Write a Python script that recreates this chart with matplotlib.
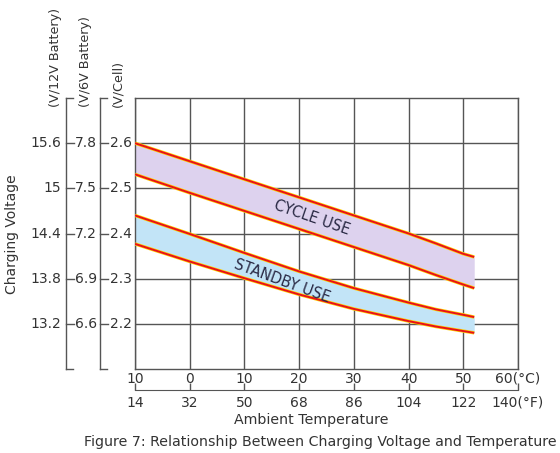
import matplotlib
matplotlib.use("Agg")
import matplotlib.pyplot as plt
import matplotlib.transforms as mtransforms
from matplotlib.lines import Line2D

# temperatures (deg C) where the curves were read
temp_c = [-10, 0, 10, 20, 30, 40, 45, 50, 52]
cycle_hi = [2.600, 2.560, 2.520, 2.480, 2.440, 2.400, 2.378, 2.355, 2.348]
cycle_lo = [2.531, 2.490, 2.450, 2.410, 2.370, 2.330, 2.308, 2.287, 2.279]
standby_hi = [2.440, 2.399, 2.357, 2.316, 2.279, 2.247, 2.232, 2.220, 2.215]
standby_lo = [2.377, 2.338, 2.301, 2.265, 2.233, 2.206, 2.194, 2.184, 2.180]

# axis ticks
cell_ticks = [2.6, 2.5, 2.4, 2.3, 2.2]
v6_labels = ["7.8", "7.5", "7.2", "6.9", "6.6"]
v12_labels = ["15.6", "15", "14.4", "13.8", "13.2"]
c_ticks = [-10, 0, 10, 20, 30, 40, 50, 60]
c_labels = ["10", "0", "10", "20", "30", "40", "50", "60(°C)"]
f_ticks = [14, 32, 50, 68, 86, 104, 122, 140]
f_labels = ["14", "32", "50", "68", "86", "104", "122", "140(°F)"]

W, H = 560, 453
txt = "#333333"
gridc = "#555555"

fig = plt.figure(figsize=(W / 100, H / 100), dpi=100)
ax = fig.add_axes([135 / W, 1 - 369 / H, (518 - 135) / W, (369 - 98) / H])
ax.set_xlim(-10, 60)
ax.set_ylim(2.1, 2.7)

# bands
ax.fill_between(temp_c, cycle_lo, cycle_hi, color="#ddd2ee", zorder=2, lw=0)
ax.fill_between(temp_c, standby_lo, standby_hi, color="#c2e4f7", zorder=2, lw=0)
for ys in (cycle_hi, cycle_lo, standby_hi, standby_lo):
    ax.plot(temp_c, ys, color="#ffd000", lw=2.4, zorder=3, solid_capstyle="butt")
    ax.plot(temp_c, ys, color="#e8101a", lw=1.4, zorder=4, solid_capstyle="butt")

ax.text(22.3, 2.434, "CYCLE USE", rotation=-19, ha="center", va="center",
        fontsize=10.5, color="#2a2a45", zorder=5)
ax.text(16.8, 2.294, "STANDBY USE", rotation=-20, ha="center", va="center",
        fontsize=10.5, color="#2a2a45", zorder=5)

# grid
ax.set_yticks([2.2, 2.3, 2.4, 2.5, 2.6])
ax.set_xticks(c_ticks)
ax.set_xticklabels(c_labels, fontsize=10, color=txt)
ax.tick_params(axis="x", length=0, pad=2)
ax.tick_params(axis="y", length=0, labelleft=False)
ax.grid(True, color=gridc, lw=1.0, zorder=1)
for s in ax.spines.values():
    s.set_color(gridc)
    s.set_linewidth(1.0)

# Fahrenheit axis below
sec = ax.secondary_xaxis(-0.078, functions=(lambda c: c * 9 / 5 + 32,
                                             lambda f: (f - 32) * 5 / 9))
sec.set_xticks(f_ticks)
sec.set_xticklabels(f_labels, fontsize=10, color=txt)
sec.tick_params(direction="in", length=5, width=1, color=gridc, pad=4)
sec.spines["bottom"].set_color(gridc)

fig.text(311 / W, 1 - 420 / H, "Ambient Temperature", ha="center", va="center",
         fontsize=10.2, color=txt)

# left voltage scales
trans = mtransforms.blended_transform_factory(fig.transFigure, ax.transData)
for bx in (66, 100):
    fig.add_artist(Line2D([bx / W, bx / W], [2.1, 2.7], transform=trans,
                          color=gridc, lw=1.0))
    for yb in (2.1, 2.7):
        fig.add_artist(Line2D([bx / W, (bx + 7) / W], [yb, yb], transform=trans,
                              color=gridc, lw=1.0))
    for yv in cell_ticks:
        fig.add_artist(Line2D([bx / W, (bx + 8) / W], [yv, yv], transform=trans,
                              color=gridc, lw=1.0))

for yv, l12, l6 in zip(cell_ticks, v12_labels, v6_labels):
    fig.text(61 / W, yv, l12, transform=trans, ha="right", va="center",
             fontsize=10, color=txt)
    fig.text(75 / W, yv, l6, transform=trans, ha="left", va="center",
             fontsize=10, color=txt)
    fig.text(110 / W, yv, "%.1f" % yv, transform=trans, ha="left", va="center",
             fontsize=10, color=txt)

fig.text(55 / W, 1 - 107 / H, "(V/12V Battery)", rotation=90, ha="center",
         va="bottom", fontsize=9.2, color=txt)
fig.text(86 / W, 1 - 107 / H, "(V/6V Battery)", rotation=90, ha="center",
         va="bottom", fontsize=9.2, color=txt)
fig.text(118 / W, 1 - 107 / H, "(V/Cell)", rotation=90, ha="center",
         va="bottom", fontsize=9.2, color=txt)
fig.text(12 / W, 1 - 234 / H, "Charging Voltage", rotation=90, ha="center",
         va="center", fontsize=10, color=txt)

fig.text(557 / W, 1 - 442 / H,
         "Figure 7: Relationship Between Charging Voltage and Temperature",
         ha="right", va="center", fontsize=10.2, color=txt)

fig.savefig("out.png", dpi=100)
